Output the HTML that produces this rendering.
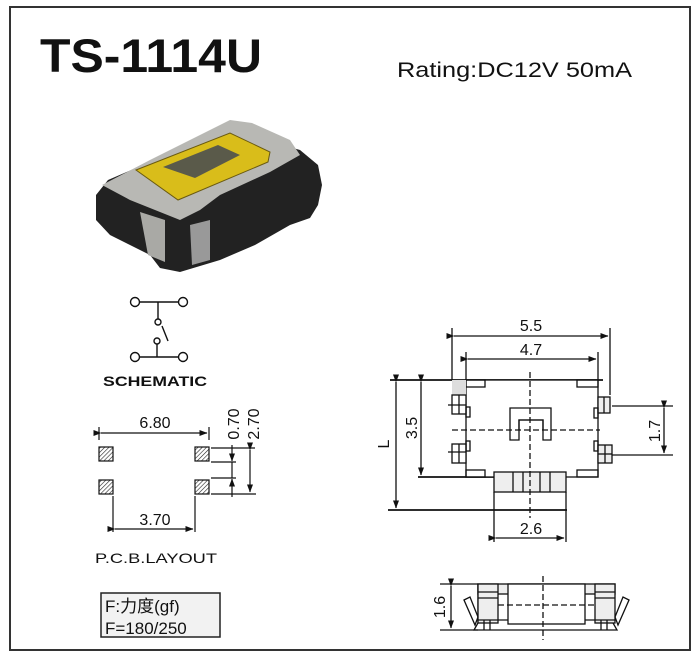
<!DOCTYPE html>
<html><head><meta charset="utf-8"><style>
html,body{margin:0;padding:0;background:#fff;}
svg{display:block;}
text{font-family:"Liberation Sans","Noto Sans CJK SC",sans-serif;fill:#111;}
</style></head><body>
<svg width="700" height="660" viewBox="0 0 700 660" xmlns="http://www.w3.org/2000/svg">
<defs>
<pattern id="h" width="3" height="3" patternUnits="userSpaceOnUse" patternTransform="rotate(45)"><line x1="0" y1="0" x2="0" y2="3" stroke="#222" stroke-width="1.2"/></pattern>
<marker id="a" markerWidth="8" markerHeight="6" refX="7.5" refY="3" orient="auto" markerUnits="userSpaceOnUse"><path d="M0,0 L8,3 L0,6z" fill="#111"/></marker>
</defs>
<rect x="10" y="7" width="680" height="643" fill="none" stroke="#333" stroke-width="2"/>
<text x="40" y="72" font-size="47" font-weight="bold" textLength="222" lengthAdjust="spacingAndGlyphs">TS-1114U</text>
<text x="397" y="77" font-size="21" textLength="235" lengthAdjust="spacingAndGlyphs">Rating:DC12V 50mA</text>

<!-- photo -->
<g>
<polygon points="96,195 108,180 150,162 230,122 250,125 265,140 300,150 318,165 322,185 318,205 310,218 290,225 255,245 220,260 180,272 160,268 150,255 130,245 110,235 96,220" fill="#222"/>
<polygon points="102,185 150,160 230,120 252,123 290,140 300,155 270,172 220,195 200,210 180,220 160,212 130,200" fill="#b8b8b4"/>
<polygon points="136,170 230,133 270,152 268,162 178,200" fill="#d9bd1a" stroke="#6a5a10" stroke-width="1"/>
<polygon points="163,167 218,145 240,155 195,178" fill="#5a5a4a"/>
<polygon points="140,212 165,220 165,262 148,255" fill="#a9a9a5"/>
<polygon points="190,225 210,220 210,260 192,265" fill="#999"/>
</g>

<!-- schematic -->
<g stroke="#111" stroke-width="1.4" fill="#fff">
<line x1="139" y1="302" x2="178" y2="302"/>
<line x1="158" y1="302" x2="158" y2="319"/>
<line x1="139" y1="357" x2="178" y2="357"/>
<line x1="157" y1="344" x2="157" y2="357"/>
<line x1="162" y1="326" x2="168" y2="341"/>
<circle cx="135" cy="302" r="4.5"/><circle cx="183" cy="302" r="4.5"/>
<circle cx="135" cy="357" r="4.5"/><circle cx="183" cy="357" r="4.5"/>
<circle cx="158" cy="322" r="3"/><circle cx="157" cy="341" r="3"/>
</g>
<text x="103" y="386" font-size="14" font-weight="bold" textLength="104" lengthAdjust="spacingAndGlyphs">SCHEMATIC</text>

<!-- PCB layout -->
<g stroke="#111" stroke-width="1.2">
<line x1="99" y1="427" x2="99" y2="440"/><line x1="209" y1="427" x2="209" y2="440"/>
<line x1="101" y1="433" x2="207" y2="433" marker-start="url(#a)" marker-end="url(#a)"/>
<rect x="99" y="447" width="14" height="14" fill="url(#h)"/>
<rect x="195" y="447" width="14" height="14" fill="url(#h)"/>
<rect x="99" y="480" width="14" height="14" fill="url(#h)"/>
<rect x="195" y="480" width="14" height="14" fill="url(#h)"/>
<line x1="211" y1="448" x2="255" y2="448"/>
<line x1="211" y1="462" x2="236" y2="462"/>
<line x1="211" y1="478" x2="236" y2="478"/>
<line x1="211" y1="494" x2="256" y2="494"/>
<line x1="232" y1="445" x2="232" y2="461" marker-end="url(#a)"/>
<line x1="232" y1="497" x2="232" y2="479" marker-end="url(#a)"/>
<line x1="232" y1="462" x2="232" y2="478"/>
<line x1="250" y1="450" x2="250" y2="492" marker-start="url(#a)" marker-end="url(#a)"/>
<line x1="113" y1="496" x2="113" y2="532"/><line x1="195" y1="496" x2="195" y2="532"/>
<line x1="115" y1="529" x2="193" y2="529" marker-start="url(#a)" marker-end="url(#a)"/>
</g>
<text x="155" y="428" font-size="16" text-anchor="middle">6.80</text>
<text x="155" y="525" font-size="16" text-anchor="middle">3.70</text>
<text transform="translate(239,424) rotate(-90)" font-size="16" text-anchor="middle">0.70</text>
<text transform="translate(259,424) rotate(-90)" font-size="16" text-anchor="middle">2.70</text>
<text x="95" y="563" font-size="14" textLength="122" lengthAdjust="spacingAndGlyphs">P.C.B.LAYOUT</text>
<rect x="101" y="593" width="119" height="44" fill="#f2f2f2" stroke="#222" stroke-width="1.5"/>
<text x="105" y="612" font-size="17">F:力度(gf)</text>
<text x="105" y="634" font-size="17">F=180/250</text>

<!-- top view -->
<g stroke="#111" stroke-width="1.3" fill="none">
<line x1="452" y1="328" x2="452" y2="380"/><line x1="610" y1="328" x2="610" y2="395"/>
<line x1="454" y1="336" x2="608" y2="336" marker-start="url(#a)" marker-end="url(#a)"/>
<line x1="466" y1="352" x2="466" y2="380"/><line x1="598" y1="352" x2="598" y2="380"/>
<line x1="468" y1="359" x2="596" y2="359" marker-start="url(#a)" marker-end="url(#a)"/>
<line x1="390" y1="380" x2="603" y2="380" stroke-width="1.8"/>
<line x1="418" y1="477" x2="494" y2="477" stroke-width="1.8"/>
<line x1="388" y1="510" x2="567" y2="510" stroke-width="1.8"/>
<line x1="396" y1="382" x2="396" y2="508" marker-start="url(#a)" marker-end="url(#a)"/>
<line x1="421" y1="382" x2="421" y2="475" marker-start="url(#a)" marker-end="url(#a)"/>
<rect x="466" y="380" width="132" height="97" fill="#fff"/>
<rect x="466" y="380" width="19" height="7"/><rect x="577" y="380" width="21" height="7"/>
<rect x="466" y="470" width="19" height="7"/><rect x="577" y="470" width="21" height="7"/>
<rect x="452" y="380" width="14" height="15" fill="#ddd" stroke="none"/>
<rect x="452" y="395" width="14" height="19" fill="#fff"/><line x1="459" y1="395" x2="459" y2="414"/><line x1="448" y1="405" x2="466" y2="405"/>
<rect x="466" y="407" width="4" height="10"/>
<rect x="452" y="444" width="14" height="19" fill="#fff"/><line x1="459" y1="444" x2="459" y2="463"/><line x1="448" y1="452" x2="466" y2="452"/>
<rect x="466" y="441" width="4" height="10"/>
<rect x="598" y="397" width="12" height="16" fill="#eee"/><line x1="604" y1="397" x2="604" y2="413"/>
<rect x="594" y="408" width="4" height="10"/>
<rect x="598" y="445" width="14" height="18" fill="#eee"/><line x1="605" y1="445" x2="605" y2="463"/><line x1="598" y1="454" x2="612" y2="454"/>
<rect x="594" y="441" width="4" height="10"/>
<line x1="612" y1="406" x2="673" y2="406"/><line x1="612" y1="455" x2="673" y2="455"/>
<line x1="664" y1="408" x2="664" y2="453" marker-start="url(#a)" marker-end="url(#a)"/>
<path d="M510,440 V408 H551 V440 H543 V420 H519 V440 Z" fill="#fff"/>
<path d="M519,430 V420 H543 V430" />
<rect x="494" y="472" width="72" height="20" fill="#eee"/>
<line x1="513" y1="472" x2="513" y2="492"/><line x1="523" y1="472" x2="523" y2="492"/><line x1="540" y1="472" x2="540" y2="492"/><line x1="550" y1="472" x2="550" y2="492"/>
<line x1="494" y1="492" x2="494" y2="542"/><line x1="566" y1="492" x2="566" y2="542"/>
<line x1="496" y1="538" x2="564" y2="538" marker-start="url(#a)" marker-end="url(#a)"/>
<line x1="530" y1="372" x2="530" y2="518" stroke-dasharray="6,3"/>
<line x1="452" y1="430" x2="600" y2="430" stroke-dasharray="6,3"/>
</g>
<text x="531" y="331" font-size="16" text-anchor="middle">5.5</text>
<text x="531" y="355" font-size="16" text-anchor="middle">4.7</text>
<text x="531" y="534" font-size="16" text-anchor="middle">2.6</text>
<text transform="translate(417,428) rotate(-90)" font-size="16" text-anchor="middle">3.5</text>
<text transform="translate(389,444) rotate(-90)" font-size="16" text-anchor="middle">L</text>
<text transform="translate(660,431) rotate(-90)" font-size="16" text-anchor="middle">1.7</text>

<!-- side view -->
<g stroke="#111" stroke-width="1.3" fill="none">
<line x1="440" y1="584" x2="478" y2="584"/><line x1="440" y1="630" x2="478" y2="630"/>
<line x1="451" y1="586" x2="451" y2="628" marker-start="url(#a)" marker-end="url(#a)"/>
<rect x="478" y="584" width="137" height="10" fill="#eee"/>
<path d="M478,584 V623 L474,630 H617 L613,623 V584" />
<rect x="478" y="584" width="20" height="39" fill="#eee"/>
<rect x="595" y="584" width="20" height="39" fill="#eee"/>
<rect x="508" y="584" width="77" height="40" fill="#fff"/>
<line x1="478" y1="592" x2="498" y2="592"/><line x1="478" y1="598" x2="498" y2="598"/>
<line x1="595" y1="592" x2="615" y2="592"/><line x1="595" y1="598" x2="615" y2="598"/>
<line x1="484" y1="620" x2="484" y2="630"/><line x1="490" y1="620" x2="490" y2="630"/>
<line x1="601" y1="620" x2="601" y2="630"/><line x1="607" y1="620" x2="607" y2="630"/>
<line x1="478" y1="620" x2="508" y2="620"/><line x1="585" y1="620" x2="615" y2="620"/>
<path d="M464,600 L470,597 L478,617 L475,625 Z"/>
<path d="M629,600 L623,597 L615,617 L618,625 Z"/>
<line x1="498" y1="605" x2="595" y2="605" stroke-dasharray="6,3"/>
<line x1="543" y1="576" x2="543" y2="640" stroke-dasharray="6,3"/>
</g>
<text transform="translate(445,607) rotate(-90)" font-size="16" text-anchor="middle">1.6</text>
</svg>
</body></html>
